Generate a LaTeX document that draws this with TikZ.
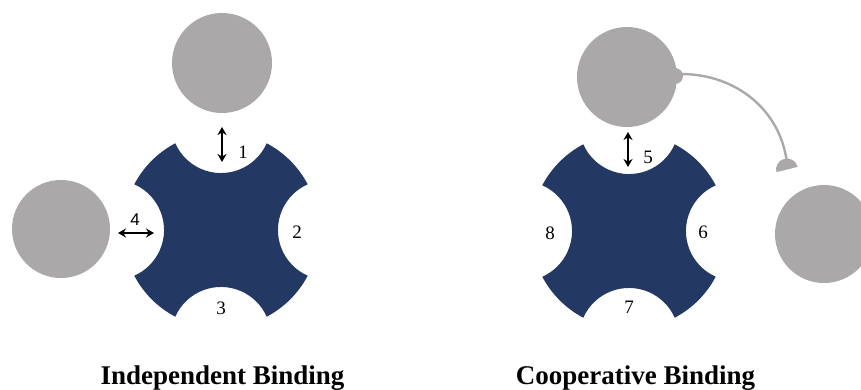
\documentclass[tikz,border=0pt]{standalone}
\usepackage{fontspec}
\setmainfont{Liberation Serif}
\newfontfamily\sansdigit{Liberation Sans}
\usetikzlibrary{arrows.meta}
\definecolor{navy}{RGB}{35,57,99}
\definecolor{ligand}{RGB}{170,168,168}
\begin{document}
\begin{tikzpicture}[x=1pt,y=1pt,
  receptor/.style={fill=navy},
  ligandc/.style={circle, fill=ligand, inner sep=0pt, minimum size=100pt},
  bindarrow/.style={{Stealth[length=8pt,width=9pt]}-{Stealth[length=8pt,width=9pt]}, line width=1.9pt},
  sitelabel/.style={font=\fontsize{19}{19}\selectfont, inner sep=0pt},
  title/.style={font=\fontsize{27}{27}\selectfont\bfseries, inner sep=0pt, anchor=base},
  tether/.style={draw=ligand, line width=2.4pt}]
\useasboundingbox (0,0) rectangle (861,389);
\clip (0,0) rectangle (861,389);

% receptors
\coordinate (R1) at (221,159);
\coordinate (R2) at (629,158);
\foreach \c in {R1,R2}{
  \fill[receptor, shift={(\c)}] (27.8:98)
    \foreach \a in {0,90,180,270}{
      arc[start angle=\a+27.8, end angle=\a+62.2, radius=98]
      arc[start angle=\a-23.9, end angle=\a-156.1, radius=50]
    } -- cycle;
}

% ligands
\node[ligandc] (L1) at (222,326) {};
\node[ligandc, minimum size=98pt] (L4) at (61,160) {};
\node[ligandc] (L5) at (627,312) {};
\node[ligandc, minimum size=98pt] (L6) at (824,155) {};

% tether
\node[circle, fill=ligand, inner sep=0pt, minimum size=16pt] (knob) at (675,313) {};
\coordinate (ts) at (681,315);
\coordinate (te) at (787,226);
\draw[tether] (ts) to[out=0,in=97] (te);
\fill[ligand, rotate around={14:(787,219.5)}] (776,219.5) arc[start angle=180, end angle=0, radius=11] -- cycle;

% arrows
\coordinate (a1s) at (222,262); \coordinate (a1e) at (222,227);
\coordinate (a4s) at (118,156); \coordinate (a4e) at (154,156);
\coordinate (a5s) at (628,257); \coordinate (a5e) at (628,222);
\draw[bindarrow] (a1s) -- (a1e);
\draw[bindarrow] (a4s) -- (a4e);
\draw[bindarrow] (a5s) -- (a5e);

% site labels
\node[sitelabel] (s1) at (243,237) {1};
\node[sitelabel] (s2) at (297,157) {2};
\node[sitelabel] (s3) at (221,81) {3};
\node[sitelabel, font=\fontsize{17}{17}\selectfont\sansdigit] (s4) at (135,169) {4};
\node[sitelabel] (s5) at (648,232) {5};
\node[sitelabel] (s6) at (703,157) {6};
\node[sitelabel] (s7) at (629,82) {7};
\node[sitelabel] (s8) at (550,156) {8};

% titles
\node[title] (t1) at (222.5,5) {Independent Binding};
\node[title] (t2) at (635.5,5) {Cooperative Binding};
\end{tikzpicture}
\end{document}
